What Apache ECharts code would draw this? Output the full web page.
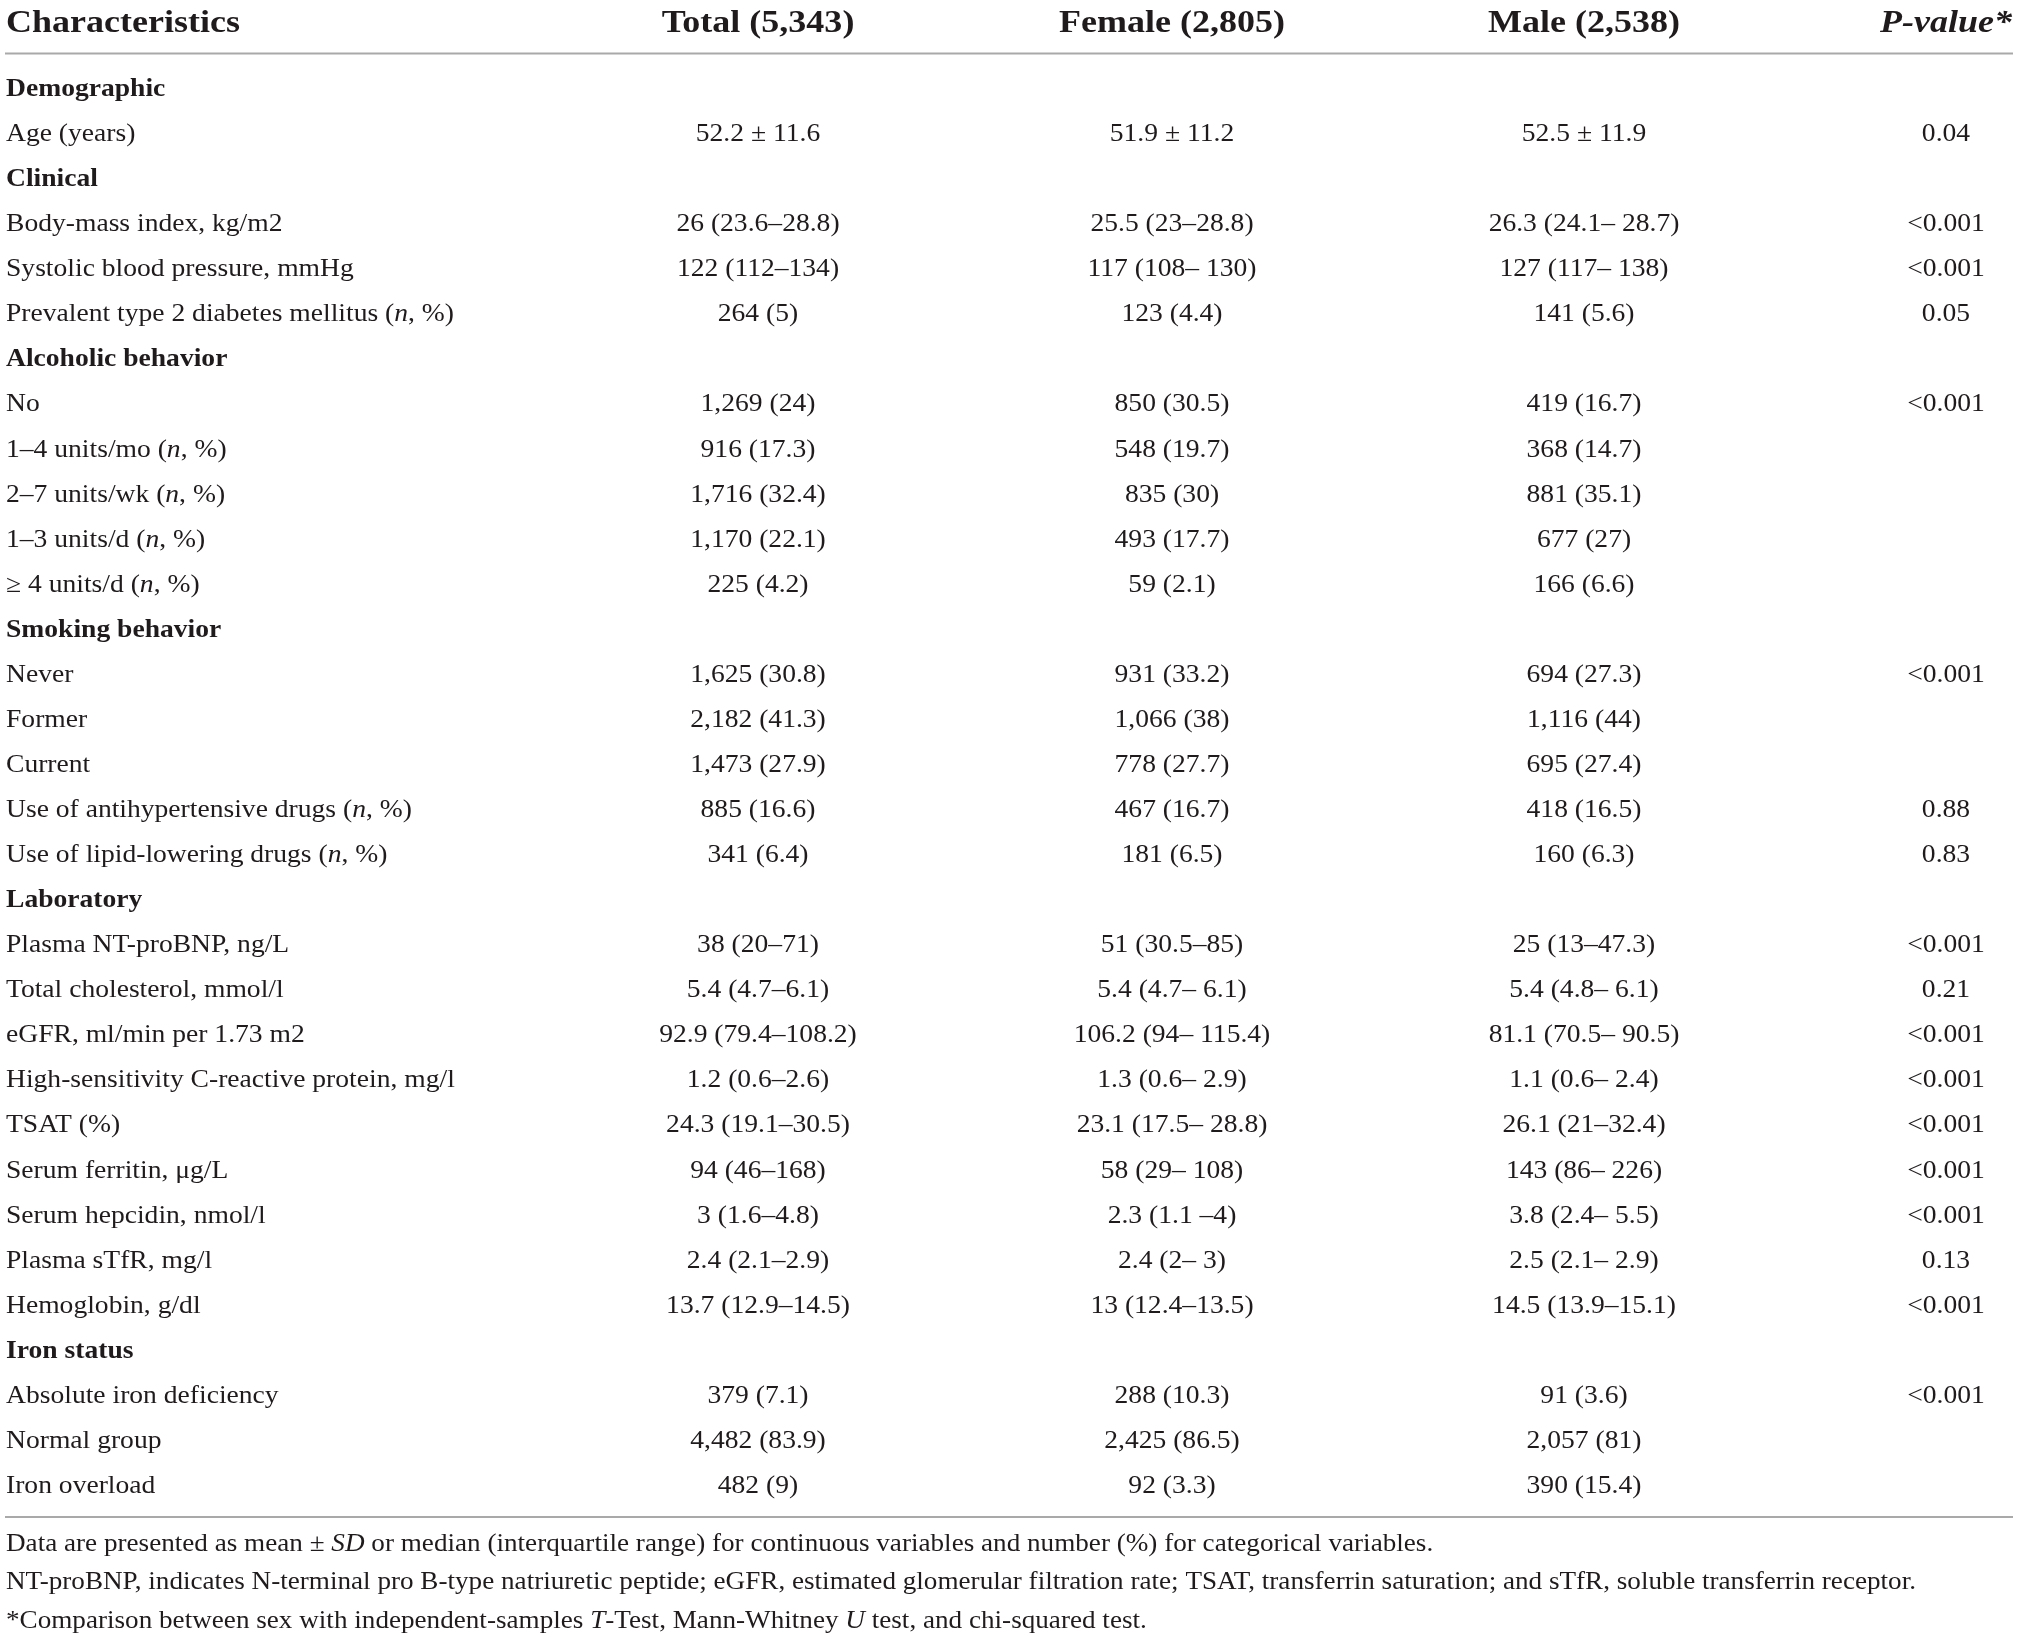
<!DOCTYPE html>
<html><head><meta charset="utf-8">
<script src="https://cdn.jsdelivr.net/npm/echarts@6/dist/echarts.min.js"></script>
<style>html,body{margin:0;padding:0;background:#fff}#c{width:2019px;height:1638px}</style>
</head><body><div id="c"></div>
<script>
// ---------- DATA ----------
const headers = ['Characteristics', 'Total (5,343)', 'Female (2,805)', 'Male (2,538)', 'P-value*'];
const sectionRows = ['Demographic', 'Clinical', 'Alcoholic behavior', 'Smoking behavior', 'Laboratory', 'Iron status'];
const characteristics = [
  'Demographic',
  'Age (years)',
  'Clinical',
  'Body-mass index, kg/m2',
  'Systolic blood pressure, mmHg',
  'Prevalent type 2 diabetes mellitus (n, %)',
  'Alcoholic behavior',
  'No',
  '1–4 units/mo (n, %)',
  '2–7 units/wk (n, %)',
  '1–3 units/d (n, %)',
  '≥ 4 units/d (n, %)',
  'Smoking behavior',
  'Never',
  'Former',
  'Current',
  'Use of antihypertensive drugs (n, %)',
  'Use of lipid-lowering drugs (n, %)',
  'Laboratory',
  'Plasma NT-proBNP, ng/L',
  'Total cholesterol, mmol/l',
  'eGFR, ml/min per 1.73 m2',
  'High-sensitivity C-reactive protein, mg/l',
  'TSAT (%)',
  'Serum ferritin, μg/L',
  'Serum hepcidin, nmol/l',
  'Plasma sTfR, mg/l',
  'Hemoglobin, g/dl',
  'Iron status',
  'Absolute iron deficiency',
  'Normal group',
  'Iron overload'
];
const totalValues = [
  '', '52.2 ± 11.6', '', '26 (23.6–28.8)', '122 (112–134)', '264 (5)',
  '', '1,269 (24)', '916 (17.3)', '1,716 (32.4)', '1,170 (22.1)', '225 (4.2)',
  '', '1,625 (30.8)', '2,182 (41.3)', '1,473 (27.9)', '885 (16.6)', '341 (6.4)',
  '', '38 (20–71)', '5.4 (4.7–6.1)', '92.9 (79.4–108.2)', '1.2 (0.6–2.6)', '24.3 (19.1–30.5)',
  '94 (46–168)', '3 (1.6–4.8)', '2.4 (2.1–2.9)', '13.7 (12.9–14.5)',
  '', '379 (7.1)', '4,482 (83.9)', '482 (9)'
];
const femaleValues = [
  '', '51.9 ± 11.2', '', '25.5 (23–28.8)', '117 (108– 130)', '123 (4.4)',
  '', '850 (30.5)', '548 (19.7)', '835 (30)', '493 (17.7)', '59 (2.1)',
  '', '931 (33.2)', '1,066 (38)', '778 (27.7)', '467 (16.7)', '181 (6.5)',
  '', '51 (30.5–85)', '5.4 (4.7– 6.1)', '106.2 (94– 115.4)', '1.3 (0.6– 2.9)', '23.1 (17.5– 28.8)',
  '58 (29– 108)', '2.3 (1.1 –4)', '2.4 (2– 3)', '13 (12.4–13.5)',
  '', '288 (10.3)', '2,425 (86.5)', '92 (3.3)'
];
const maleValues = [
  '', '52.5 ± 11.9', '', '26.3 (24.1– 28.7)', '127 (117– 138)', '141 (5.6)',
  '', '419 (16.7)', '368 (14.7)', '881 (35.1)', '677 (27)', '166 (6.6)',
  '', '694 (27.3)', '1,116 (44)', '695 (27.4)', '418 (16.5)', '160 (6.3)',
  '', '25 (13–47.3)', '5.4 (4.8– 6.1)', '81.1 (70.5– 90.5)', '1.1 (0.6– 2.4)', '26.1 (21–32.4)',
  '143 (86– 226)', '3.8 (2.4– 5.5)', '2.5 (2.1– 2.9)', '14.5 (13.9–15.1)',
  '', '91 (3.6)', '2,057 (81)', '390 (15.4)'
];
const pValues = [
  '', '0.04', '', '<0.001', '<0.001', '0.05',
  '', '<0.001', '', '', '', '',
  '', '<0.001', '', '', '0.88', '0.83',
  '', '<0.001', '0.21', '<0.001', '<0.001', '<0.001',
  '<0.001', '<0.001', '0.13', '<0.001',
  '', '<0.001', '', ''
];
const footnotes = [
  'Data are presented as mean ± {i|SD} or median (interquartile range) for continuous variables and number (%) for categorical variables.',
  'NT-proBNP, indicates N-terminal pro B-type natriuretic peptide; eGFR, estimated glomerular filtration rate; TSAT, transferrin saturation; and sTfR, soluble transferrin receptor.',
  '*Comparison between sex with independent-samples {i|T}-Test, Mann-Whitney {i|U} test, and chi-squared test.'
];

// ---------- LAYOUT / STYLE ----------
const FONT = 'Liberation Serif';
const INK = '#1f1b1c';
const RULE = '#a9a9a9';
const colX = [6, 758, 1172, 1584, 1946];
const BODY = 25, HEAD = 32, FOOT = 24.5;
const ROW_H = 45.06, ROW_TOP = 88 - ROW_H / 2, TEXT_DY = 1.5;
const ctx = document.createElement('canvas').getContext('2d');
function measure(t, f) { ctx.font = f; return ctx.measureText(t).width; }
const bodyScale = 448 / measure('Prevalent type 2 diabetes mellitus (n, %)', BODY + 'px "' + FONT + '"');
const headScale = 234 / measure('Characteristics', 'bold ' + HEAD + 'px "' + FONT + '"');
const footScale = 1910 / measure(footnotes[1], FOOT + 'px "' + FONT + '"');

const columns = [characteristics, totalValues, femaleValues, maleValues, pValues];
const cells = [];
columns.forEach((col, c) => col.forEach((t, r) => { if (t) cells.push([c, r]); }));

function richLabel(t) { return t.replace('(n, %)', '({i|n}, %)'); }

const chart = echarts.init(document.getElementById('c'), null, { renderer: 'canvas' });
const graphics = [];
// header
headers.forEach((h, c) => {
  graphics.push({
    type: 'text', x: colX[c], y: 23.5, scaleX: headScale, silent: true,
    style: {
      text: c === 4 ? '{bi|' + h + '}' : h,
      x: 0, y: 0, align: c === 0 ? 'left' : 'center', verticalAlign: 'middle',
      fontFamily: FONT, fontSize: HEAD, fontWeight: 'bold', fill: INK,
      rich: { bi: { fontFamily: FONT, fontSize: HEAD, fontWeight: 'bold', fontStyle: 'italic', fill: INK } }
    }
  });
});
// rules
[53.5, 1517].forEach(y => graphics.push({
  type: 'line', silent: true,
  shape: { x1: 5, y1: y, x2: 2013, y2: y },
  style: { stroke: RULE, lineWidth: 2 }
}));
// footnotes
[1544.5, 1583, 1621.5].forEach((y, i) => graphics.push({
  type: 'text', x: 6, y: y, scaleX: footScale, silent: true,
  style: {
    text: footnotes[i], x: 0, y: 0, align: 'left', verticalAlign: 'middle',
    fontFamily: FONT, fontSize: FOOT, fill: INK,
    rich: { i: { fontFamily: FONT, fontSize: FOOT, fontStyle: 'italic', fill: INK } }
  }
}));

chart.setOption({
  animation: false,
  backgroundColor: '#ffffff',
  grid: { left: 0, right: 0, top: ROW_TOP, height: ROW_H * characteristics.length },
  xAxis: { type: 'value', min: 0, max: 2019, show: false },
  yAxis: { type: 'category', data: characteristics, inverse: true, show: false },
  graphic: graphics,
  series: [{
    type: 'custom',
    data: cells,
    silent: true,
    renderItem: function (params, api) {
      const c = api.value(0), r = api.value(1);
      const text = columns[c][r];
      const pt = api.coord([colX[c], r]);
      const bold = c === 0 && sectionRows.indexOf(text) >= 0;
      return {
        type: 'text', x: pt[0], y: pt[1] + TEXT_DY, scaleX: bodyScale,
        style: {
          text: c === 0 ? richLabel(text) : text,
          x: 0, y: 0, align: c === 0 ? 'left' : 'center', verticalAlign: 'middle',
          fontFamily: FONT, fontSize: BODY, fontWeight: bold ? 'bold' : 'normal', fill: INK,
          rich: { i: { fontFamily: FONT, fontSize: BODY, fontStyle: 'italic', fill: INK } }
        }
      };
    }
  }]
});
</script>
</body></html>
